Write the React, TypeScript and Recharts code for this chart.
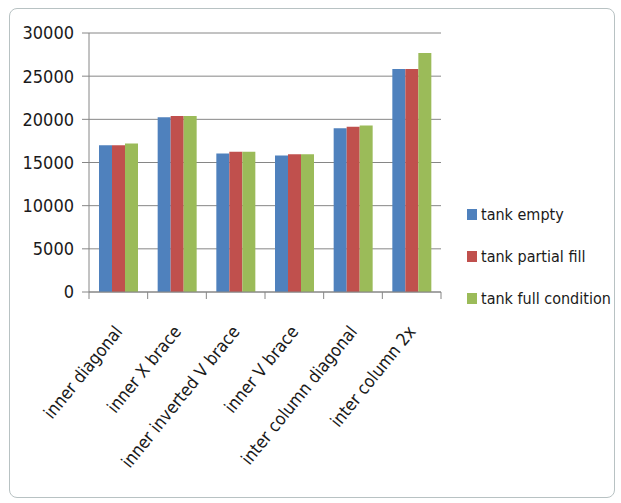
import {Bar, BarChart, CartesianGrid, XAxis, YAxis} from "recharts";

const categories = [
    "inner diagonal",
    "inner X brace",
    "inner inverted V brace",
    "inner V brace",
    "inter column diagonal",
    "inter column 2x",
];
const tankEmpty = [17000, 20250, 16050, 15800, 18970, 25820];
const tankPartialFill = [17000, 20400, 16250, 15950, 19150, 25820];
const tankFullCondition = [17200, 20400, 16250, 15950, 19280, 27680];
const yTicks = [0, 5000, 10000, 15000, 20000, 25000, 30000];

const seriesNames = ["tank empty", "tank partial fill", "tank full condition"];
const seriesColors = ["#4F81BD", "#C0504D", "#9BBB59"];

const data = categories.map((name, i) => ({
    name,
    empty: tankEmpty[i],
    partial: tankPartialFill[i],
    full: tankFullCondition[i],
}));

const FONT = "'DejaVu Sans Condensed', 'Open Sans', 'Noto Sans', sans-serif";
const CHART_W = 606;
const CHART_H = 490;
const PLOT_LEFT = 79;
const PLOT_RIGHT = 431;
const BAND = (PLOT_RIGHT - PLOT_LEFT) / categories.length;

// category ticks sit on the boundaries between groups, labels are slanted
function CategoryTick(props: any) {
    const {x, y, payload, index} = props;
    const left = x - BAND / 2;
    const tx = x + 5;
    const ty = y + 32;
    return (
        <g>
            <line x1={left} y1={y - 8} x2={left} y2={y - 1} stroke="#868686" />
            {index === categories.length - 1 && (
                <line x1={left + BAND} y1={y - 8} x2={left + BAND} y2={y - 1} stroke="#868686" />
            )}
            <text
                x={tx}
                y={ty}
                textAnchor="end"
                transform={`rotate(-51 ${tx} ${ty})`}
                fontSize={17.5}
                fill="#1a1a1a"
                fontFamily={FONT}
            >
                {payload.value}
            </text>
        </g>
    );
}

export default function App() {
    return (
        <div
            style={{
                position: "absolute",
                left: 9,
                top: 8,
                width: CHART_W,
                height: CHART_H,
                border: "1px solid #B8C2C3",
                borderRadius: 8,
                boxSizing: "border-box",
                background: "#fff",
            }}
        >
            <BarChart
                width={CHART_W - 2}
                height={CHART_H - 2}
                data={data}
                margin={{top: 24, right: CHART_W - 2 - PLOT_RIGHT, left: 0, bottom: 0}}
                barCategoryGap={10}
                barGap={0}
            >
                <CartesianGrid vertical={false} stroke="#868686" />
                <XAxis
                    dataKey="name"
                    height={CHART_H - 2 - 24 - 259}
                    interval={0}
                    tickLine={false}
                    axisLine={{stroke: "#868686"}}
                    tick={<CategoryTick />}
                />
                <YAxis
                    width={PLOT_LEFT}
                    domain={[0, 30000]}
                    ticks={yTicks}
                    interval={0}
                    tickSize={7}
                    tickMargin={8}
                    axisLine={{stroke: "#868686"}}
                    tickLine={{stroke: "#868686"}}
                    tick={{fontSize: 18, fill: "#1a1a1a", fontFamily: FONT}}
                />
                <Bar dataKey="empty" name={seriesNames[0]} fill={seriesColors[0]} isAnimationActive={false} />
                <Bar dataKey="partial" name={seriesNames[1]} fill={seriesColors[1]} isAnimationActive={false} />
                <Bar dataKey="full" name={seriesNames[2]} fill={seriesColors[2]} isAnimationActive={false} />
            </BarChart>
            <div style={{position: "absolute", left: 457, top: 184, fontFamily: FONT, fontSize: 16, color: "#1a1a1a", whiteSpace: "nowrap"}}>
                {seriesNames.map((n, i) => (
                    <div key={n} style={{display: "flex", alignItems: "center", height: 42}}>
                        <span style={{width: 10, height: 11, background: seriesColors[i], marginRight: 4}} />
                        {n}
                    </div>
                ))}
            </div>
        </div>
    );
}
